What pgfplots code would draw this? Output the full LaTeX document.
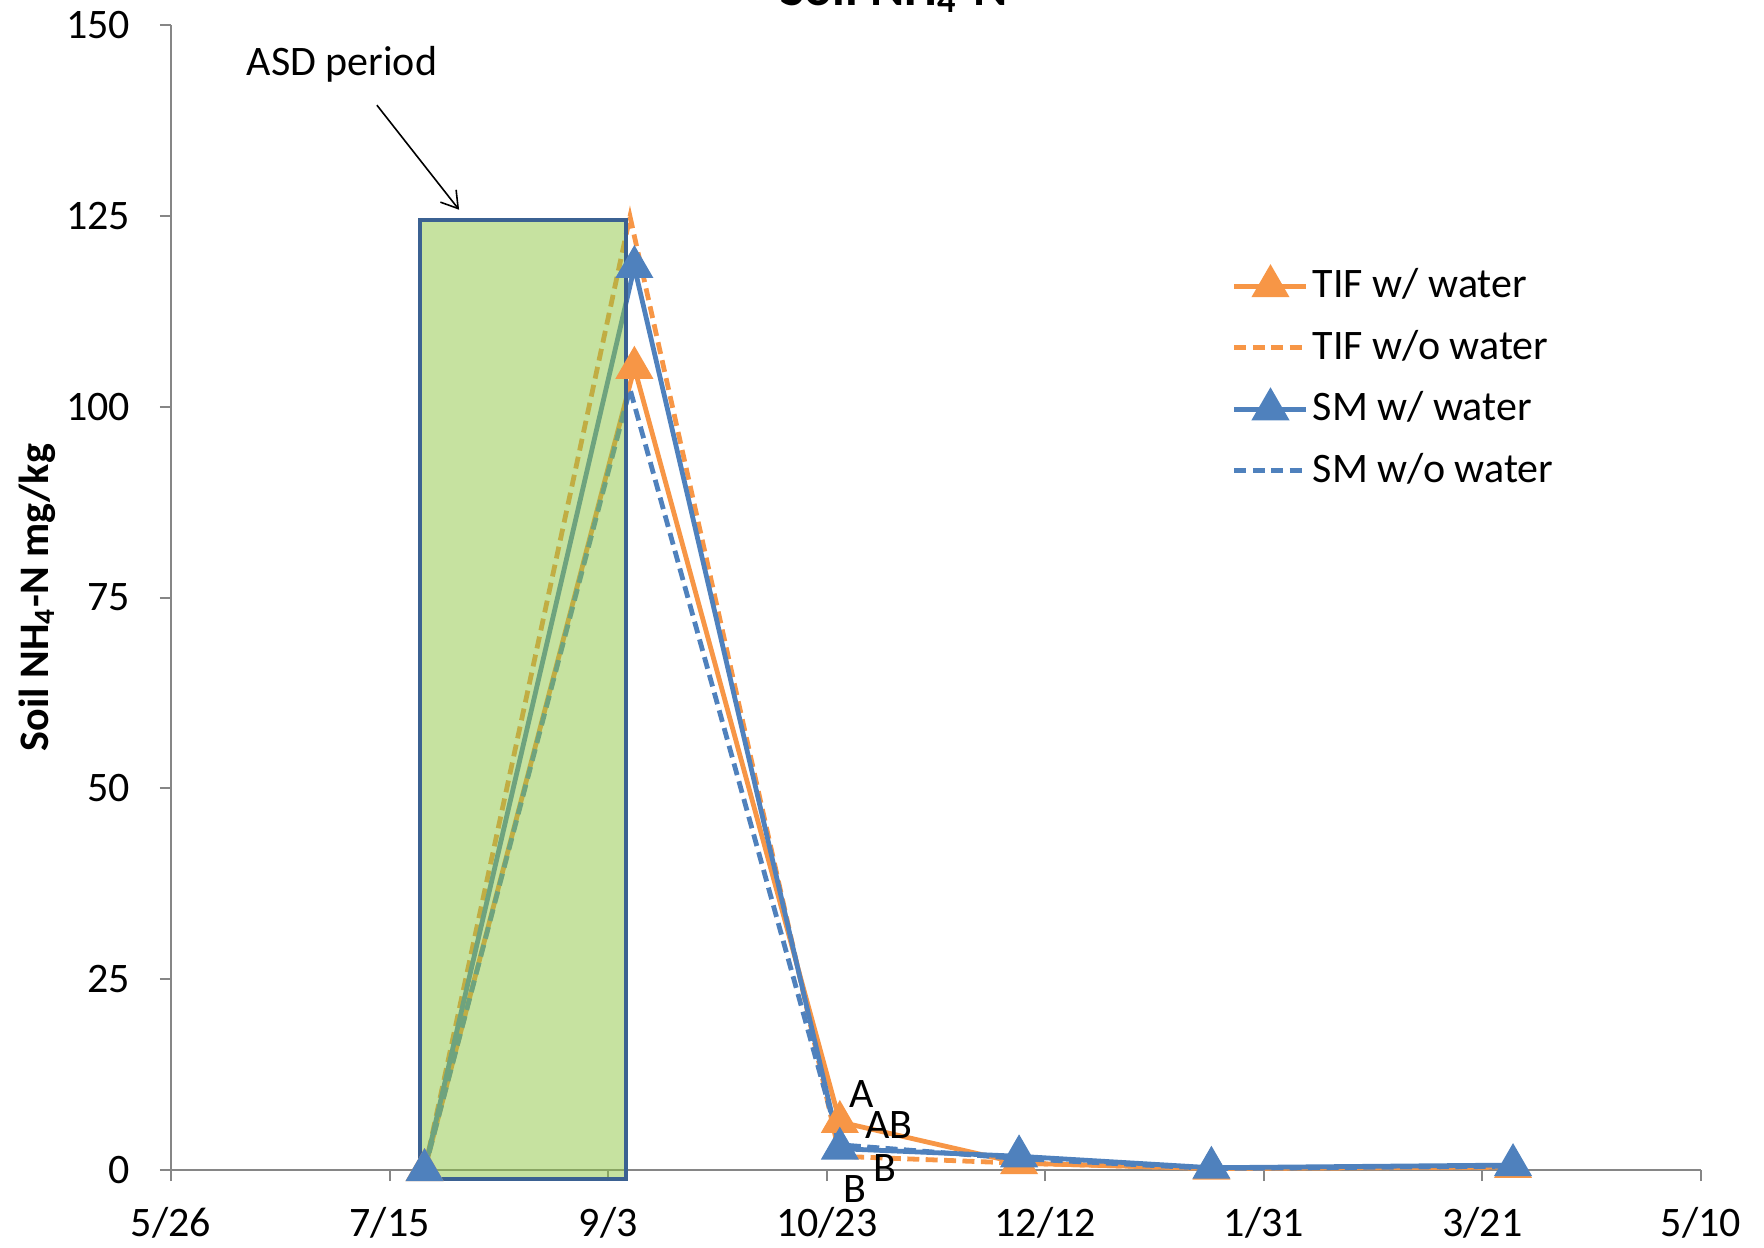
\documentclass[border=0pt]{standalone}
\usepackage{pgfplots}
\pgfplotsset{compat=1.18}
\usepackage{fontspec}
\setmainfont{Carlito}
\usetikzlibrary{arrows.meta}
\definecolor{xlorange}{HTML}{F79646}
\definecolor{xlblue}{HTML}{4F81BD}
\definecolor{rectfill}{HTML}{8DC541}
\definecolor{rectdraw}{HTML}{3B6192}
\definecolor{axgray}{HTML}{868686}
\begin{document}
\begin{tikzpicture}[font=\fontsize{10.5pt}{12.6pt}\selectfont]
\begin{axis}[
  at={(0,0)}, anchor=south west,
  scale only axis, width=382.5pt, height=286.25pt,
  xmin=0, xmax=350, ymin=0, ymax=150,
  axis lines=left, axis line style={draw=axgray, line width=0.5pt, -},
  xtick={0,50,100,150,200,250,300,350},
  xticklabels={5/26,7/15,9/3,10/23,12/12,1/31,3/21,5/10},
  ytick={0,25,50,75,100,125,150},
  tick align=outside, major tick length=2.8pt,
  tick style={draw=axgray, line width=0.5pt},
  tick label style={font=\fontsize{10.5pt}{12.6pt}\selectfont, text=black},
  yticklabel style={xshift=-3.9pt},
  xticklabel style={yshift=-3pt},
  /pgf/number format/assume math mode=true,
  ylabel={\bfseries Soil NH\textsubscript{4}-N mg/kg},
  ylabel style={font=\fontsize{10.5pt}{12.6pt}\selectfont},
  every axis y label/.style={at={(axis description cs:0,0.5)}, rotate=90, anchor=center, yshift=33.5pt},
  clip=false,
  legend cell align=left,
  legend style={at={(rel axis cs:0.693,0.795)}, anchor=north west, draw=none, fill=none,
    font=\fontsize{10.5pt}{12.6pt}\selectfont, row sep=2.6pt, inner sep=0pt,
    nodes={inner xsep=1pt}},
  legend image code/.code={\draw[mark repeat=2,mark phase=2] plot coordinates {(0pt,0pt) (9pt,0pt) (18pt,0pt)};},
]
\addplot[xlorange, line width=1.2pt, mark=triangle*, mark size=4.3pt, mark options={solid}]
  coordinates {(58,0) (106,105.1) (153,6.3) (194,0.9) (238,0.2) (307,0.4)};
\addlegendentry{TIF w/ water}
\addplot[xlorange, line width=1.2pt, dash pattern=on 3pt off 1.6pt]
  coordinates {(58,0) (105,124.9) (153,1.8) (194,0.9) (238,0.2) (307,0.4)};
\addlegendentry{TIF w/o water}
\addplot[xlblue, line width=1.2pt, mark=triangle*, mark size=4.3pt, mark options={solid}]
  coordinates {(58,0) (106,118.3) (153,2.8) (194,1.8) (238,0.3) (307,0.65)};
\addlegendentry{SM w/ water}
\addplot[xlblue, line width=1.2pt, dash pattern=on 3pt off 1.6pt]
  coordinates {(58,0) (105,102.3) (153,3.3) (194,1.5) (238,0.2) (307,0.5)};
\addlegendentry{SM w/o water}
\addplot[draw=rectdraw, line width=1pt, fill=rectfill, fill opacity=0.5, forget plot]
  coordinates {(57,-1.2) (104,-1.2) (104,124.5) (57,124.5)} -- cycle;
\node at (axis cs:39.1,144.9) {ASD period};
\draw[-{Straight Barb[length=4pt,width=5pt]}, line width=0.4pt] (axis cs:47.1,139.5) -- (axis cs:65.9,125.8);
\node at (axis cs:158,10.0) {A};
\node at (axis cs:164.2,5.9) {AB};
\node at (axis cs:163.4,0.3) {B};
\node at (axis cs:156.5,-2.5) {B};
\end{axis}
\node[overlay, anchor=base, font=\bfseries\fontsize{13pt}{15pt}\selectfont] at (180.75pt,291.25pt) {Soil NH\textsubscript{4}-N};
\pgfresetboundingbox
\path[use as bounding box] (-42.75pt,-19.25pt) rectangle (398.25pt,292.5pt);
\end{tikzpicture}
\end{document}
